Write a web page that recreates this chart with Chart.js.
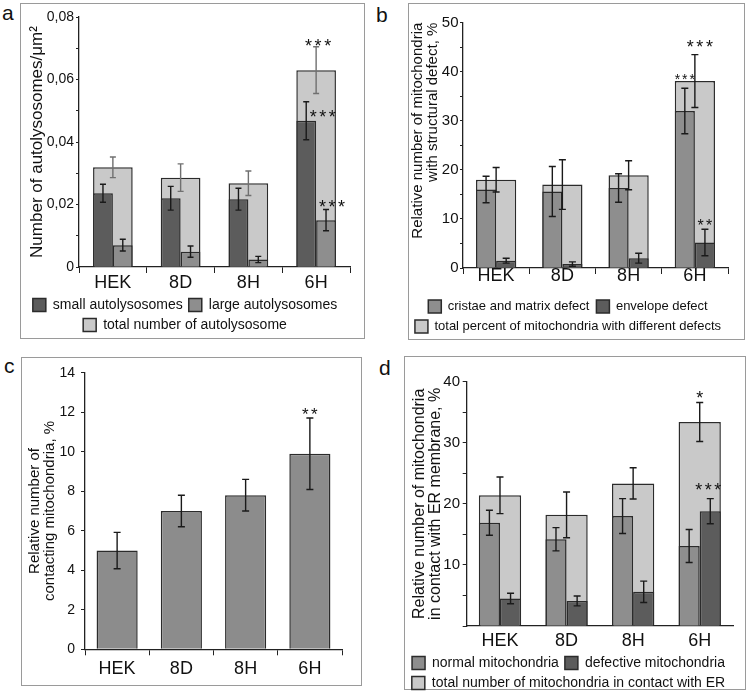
<!DOCTYPE html>
<html>
<head>
<meta charset="utf-8">
<script src="https://cdn.jsdelivr.net/npm/chart.js@4.4.1/dist/chart.umd.min.js"></script>
<style>
  body { margin: 0; background: #fff; width: 750px; height: 696px; position: relative; overflow: hidden;
         font-family: 'Liberation Sans', Arial, sans-serif; }
  .box { position: absolute; border: 1px solid #9a9a9a; box-sizing: border-box; }
  .letter { position: absolute; font-size: 21px; color: #111; line-height: 1; }
  canvas { position: absolute; }
</style>
</head>
<body>
<div class="box" style="left:20px;top:3px;width:345px;height:336px"></div>
<div class="box" style="left:408px;top:3px;width:337px;height:337px"></div>
<div class="box" style="left:21px;top:357px;width:341px;height:329px"></div>
<div class="box" style="left:404px;top:356px;width:342px;height:334px"></div>
<div class="letter" style="left:2px;top:2px">a</div>
<div class="letter" style="left:376px;top:4px">b</div>
<div class="letter" style="left:4px;top:355px">c</div>
<div class="letter" style="left:379px;top:357px">d</div>

<canvas id="chartA" width="345" height="339" style="left:20px;top:3px"></canvas>
<canvas id="chartB" width="337" height="340" style="left:408px;top:3px"></canvas>
<canvas id="chartC" width="341" height="329" style="left:21px;top:357px"></canvas>
<canvas id="chartD" width="342" height="344" style="left:404px;top:356px"></canvas>

<script>
// Data
const groups = ['HEK', '8D', '8H', '6H'];

// a: autolysosomes per µm²
const smallAuto = [0.0236, 0.0220, 0.0217, 0.0468];
const smallAutoErr = [0.0029, 0.0038, 0.0035, 0.0061];
const largeAuto = [0.0070, 0.0049, 0.0024, 0.0150];
const largeAutoErr = [0.0019, 0.0018, 0.0010, 0.0034];
const totalAuto = [0.0319, 0.0286, 0.0268, 0.0630];
const totalAutoErr = [0.0033, 0.0044, 0.0039, 0.0075];
const sigSmallAuto = ['', '', '', '***'];
const sigLargeAuto = ['', '', '', '***'];
const sigTotalAuto = ['', '', '', '***'];

// b: mitochondria with structural defect, %
const cristaeDefect = [16.0, 15.6, 16.3, 32.0];
const cristaeDefectErr = [2.7, 5.1, 2.9, 4.65];
const envelopeDefect = [1.5, 0.8, 2.0, 5.2];
const envelopeDefectErr = [0.5, 0.45, 1.0, 2.7];
const totalDefect = [18.0, 17.0, 18.9, 38.1];
const totalDefectErr = [2.5, 5.05, 2.95, 5.4];
const sigCristae = ['', '', '', '***'];
const sigEnvelope = ['', '', '', '**'];
const sigTotalDefect = ['', '', '', '***'];

// c: contacting mitochondria, %
const contacting = [5.0, 7.0, 7.8, 9.9];
const contactingErr = [0.92, 0.8, 0.8, 1.81];
const sigContacting = ['', '', '', '**'];

// d: mitochondria in contact with ER membrane, %
const normalER = [16.9, 14.2, 18.0, 13.1];
const normalERErr = [2.05, 1.9, 2.85, 2.7];
const defectiveER = [4.5, 4.1, 5.6, 18.8];
const defectiveERErr = [0.85, 0.8, 1.75, 2.05];
const totalER = [21.4, 18.2, 23.35, 33.4];
const totalERErr = [3.0, 3.75, 2.55, 3.2];
const sigDefectiveER = ['', '', '', '***'];
const sigTotalER = ['', '', '', '*'];

// Shared look
const fontFamily = "'Liberation Sans', Arial, sans-serif";
Chart.defaults.font.family = fontFamily;
Chart.defaults.color = '#111';

const shades = {
  dark: '#5c5c5c',
  medium: '#8e8e8e',
  light: '#c9c9c9',
  border: '#2b2b2b'
};

// Draws mean ± error whiskers from dataset.errors
const errorBarPlugin = {
  id: 'errorBars',
  afterDatasetsDraw(chart, args, opts) {
    const ctx = chart.ctx;
    const yScale = chart.scales.y;
    const cap = opts.cap || 3.5;
    chart.data.datasets.forEach((ds, di) => {
      if (!ds.errors) return;
      const meta = chart.getDatasetMeta(di);
      meta.data.forEach((bar, i) => {
        const top = yScale.getPixelForValue(ds.data[i] + ds.errors[i]);
        const bot = yScale.getPixelForValue(ds.data[i] - ds.errors[i]);
        ctx.save();
        ctx.strokeStyle = ds.errorColor || '#1a1a1a';
        ctx.lineWidth = 1.4;
        ctx.beginPath();
        ctx.moveTo(bar.x, top); ctx.lineTo(bar.x, bot);
        ctx.moveTo(bar.x - cap, top); ctx.lineTo(bar.x + cap, top);
        ctx.moveTo(bar.x - cap, bot); ctx.lineTo(bar.x + cap, bot);
        ctx.stroke();
        ctx.restore();
      });
    });
  }
};

// Draws significance asterisks above the whiskers
const sigPlugin = {
  id: 'sigMarks',
  afterDatasetsDraw(chart, args, opts) {
    const ctx = chart.ctx;
    const yScale = chart.scales.y;
    chart.data.datasets.forEach((ds, di) => {
      if (!ds.sig) return;
      const place = (opts.place || {})[di] || { dx: 0, dy: -8, size: 18 };
      const meta = chart.getDatasetMeta(di);
      meta.data.forEach((bar, i) => {
        const txt = ds.sig[i];
        if (!txt) return;
        const top = yScale.getPixelForValue(ds.data[i] + (ds.errors ? ds.errors[i] : 0));
        const cx = bar.x + place.dx;
        const cy = top + place.dy;
        const gap = place.size * 0.53;
        ctx.save();
        ctx.fillStyle = '#111';
        ctx.font = place.size + 'px ' + fontFamily;
        ctx.textAlign = 'center';
        ctx.textBaseline = 'alphabetic';
        for (let k = 0; k < txt.length; k++) {
          ctx.fillText(txt[k], cx + (k - (txt.length - 1) / 2) * gap, cy + place.size * 0.58);
        }
        ctx.restore();
      });
    });
  }
};

function barSet(label, data, errors, color, extra) {
  return Object.assign({
    label: label,
    data: data,
    errors: errors,
    backgroundColor: color,
    borderColor: shades.border,
    borderWidth: 1.5,
    order: 0
  }, extra || {});
}

function yAxis(o) {
  return {
    min: 0,
    max: o.max,
    afterFit: s => { s.width = o.width; },
    border: { display: true, color: '#222', width: 1.3 },
    grid: { drawOnChartArea: false, drawTicks: true, tickLength: o.tickLength, color: '#222' },
    ticks: {
      stepSize: o.step,
      padding: o.padding,
      font: { size: o.fontSize },
      color: '#111',
      callback: o.label
    },
    title: {
      display: true,
      text: o.title,
      align: o.align || 'center',
      font: { size: o.titleSize, lineHeight: 1 },
      padding: { top: o.titlePad, bottom: 0 },
      color: '#111'
    }
  };
}

function xAxis(o) {
  return {
    afterFit: s => { s.height = o.height; },
    border: { display: true, color: '#222', width: 1.3 },
    grid: { drawOnChartArea: false, drawTicks: o.drawTicks, tickLength: 6, color: '#222', offset: true },
    ticks: { padding: o.padding, font: { size: 18, lineHeight: 1 }, color: '#111' }
  };
}

function legendOpts(size, padding) {
  return {
    display: true,
    position: 'bottom',
    labels: { font: { size: size }, boxWidth: 13, boxHeight: 13, padding: padding, color: '#111' }
  };
}

function baseOptions(padding) {
  return {
    responsive: false,
    animation: false,
    layout: { padding: padding },
    plugins: { tooltip: { enabled: false } }
  };
}

// a: autolysosomes
function createAutolysosomeChart(ctx) {
  const opts = baseOptions({ left: 0, right: 15, top: 14, bottom: 0 });
  opts.scales = {
    y: yAxis({
      max: 0.08, step: 0.01, width: 59, tickLength: 3, padding: 2, fontSize: 14,
      title: 'Number of autolysosomes/\u03bcm\u00b2', titleSize: 17, titlePad: 8.5,
      label: v => {
        const n = Math.round(v * 100);
        if (n % 2 !== 0) return '';
        return n === 0 ? '0' : (n / 100).toFixed(2).replace('.', ',');
      }
    }),
    x: xAxis({ height: 25, padding: 1, drawTicks: true })
  };
  opts.plugins.legend = legendOpts(14, 6);
  opts.plugins.errorBars = { cap: 3 };
  opts.plugins.sigMarks = {
    place: {
      0: { dx: 16.5, dy: 11, size: 18 },
      1: { dx: 6, dy: -7, size: 18 },
      2: { dx: 2, dy: -5, size: 18 }
    }
  };
  return new Chart(ctx, {
    type: 'bar',
    data: {
      labels: groups,
      datasets: [
        barSet('small autolysosomes', smallAuto, smallAutoErr, shades.dark,
          { sig: sigSmallAuto, categoryPercentage: 0.585, barPercentage: 1 }),
        barSet('large autolysosomes', largeAuto, largeAutoErr, shades.medium,
          { sig: sigLargeAuto, categoryPercentage: 0.585, barPercentage: 1 }),
        barSet('total number of autolysosome', totalAuto, totalAutoErr, shades.light,
          { sig: sigTotalAuto, grouped: false, categoryPercentage: 0.585, barPercentage: 1,
            order: 1, errorColor: '#707070' })
      ]
    },
    options: opts,
    plugins: [errorBarPlugin, sigPlugin]
  });
}

// b: structural defects
function createDefectChart(ctx) {
  const opts = baseOptions({ left: 0, right: 17, top: 19.7, bottom: 0 });
  opts.scales = {
    y: yAxis({
      max: 50, step: 5, width: 55, tickLength: 3, padding: 1.5, fontSize: 15,
      title: ['Relative number of mitochondria', 'with structural defect, %'],
      titleSize: 15, titlePad: 2.5, align: 'end',
      label: v => (Math.round(v) % 10 === 0 ? String(Math.round(v)) : '')
    }),
    x: xAxis({ height: 25, padding: -6.5, drawTicks: true })
  };
  opts.plugins.legend = legendOpts(13, 7);
  opts.plugins.errorBars = { cap: 3.5 };
  opts.plugins.sigMarks = {
    place: {
      0: { dx: 0, dy: -12, size: 14 },
      1: { dx: 0, dy: -7.6, size: 16 },
      2: { dx: 5, dy: -12, size: 18 }
    }
  };
  return new Chart(ctx, {
    type: 'bar',
    data: {
      labels: groups,
      datasets: [
        barSet('cristae and matrix defect', cristaeDefect, cristaeDefectErr, shades.medium,
          { sig: sigCristae, categoryPercentage: 0.607, barPercentage: 1 }),
        barSet('envelope defect', envelopeDefect, envelopeDefectErr, shades.dark,
          { sig: sigEnvelope, categoryPercentage: 0.607, barPercentage: 1 }),
        barSet('total percent of mitochondria with different defects', totalDefect, totalDefectErr, shades.light,
          { sig: sigTotalDefect, grouped: false, categoryPercentage: 0.607, barPercentage: 1, order: 1 })
      ]
    },
    options: opts,
    plugins: [errorBarPlugin, sigPlugin]
  });
}

// c: contacting mitochondria
function createContactChart(ctx) {
  const opts = baseOptions({ left: 0, right: 20, top: 15.7, bottom: 0 });
  opts.scales = {
    y: yAxis({
      max: 14, step: 2, width: 64, tickLength: 4, padding: 6, fontSize: 14,
      title: ['Relative number of', 'contacting mitochondria, %'], titleSize: 15, titlePad: 6.5,
      label: v => String(Math.round(v))
    }),
    x: xAxis({ height: 36.7, padding: 5, drawTicks: true })
  };
  opts.plugins.legend = { display: false };
  opts.plugins.errorBars = { cap: 3.5 };
  opts.plugins.sigMarks = { place: { 0: { dx: 0, dy: -7.7, size: 17 } } };
  return new Chart(ctx, {
    type: 'bar',
    data: {
      labels: groups,
      datasets: [
        barSet('contacting mitochondria', contacting, contactingErr, '#8c8c8c',
          { sig: sigContacting, categoryPercentage: 0.64, barPercentage: 1 })
      ]
    },
    options: opts,
    plugins: [errorBarPlugin, sigPlugin]
  });
}

// d: contact with ER membrane
function createERChart(ctx) {
  const opts = baseOptions({ left: 0, right: 13, top: 25.7, bottom: 0 });
  opts.scales = {
    y: yAxis({
      max: 40, step: 5, width: 62.7, tickLength: 4, padding: 2.7, fontSize: 15,
      title: ['Relative number of mitochondria', 'in contact with ER membrane, %'], titleSize: 16, titlePad: 8,
      label: v => {
        const n = Math.round(v);
        return (n % 10 === 0 && n !== 0) ? String(n) : '';
      }
    }),
    x: xAxis({ height: 24, padding: 5.7, drawTicks: false })
  };
  opts.plugins.legend = legendOpts(14, 6);
  opts.plugins.errorBars = { cap: 3.5 };
  opts.plugins.sigMarks = {
    place: {
      1: { dx: -2, dy: -13, size: 18 },
      2: { dx: 0, dy: -9.3, size: 18 }
    }
  };
  return new Chart(ctx, {
    type: 'bar',
    data: {
      labels: groups,
      datasets: [
        barSet('normal mitochondria', normalER, normalERErr, shades.medium,
          { categoryPercentage: 0.635, barPercentage: 1 }),
        barSet('defective mitochondria', defectiveER, defectiveERErr, shades.dark,
          { sig: sigDefectiveER, categoryPercentage: 0.635, barPercentage: 1 }),
        barSet('total number of mitochondria in contact with ER', totalER, totalERErr, shades.light,
          { sig: sigTotalER, grouped: false, categoryPercentage: 0.635, barPercentage: 1, order: 1 })
      ]
    },
    options: opts,
    plugins: [errorBarPlugin, sigPlugin]
  });
}

createAutolysosomeChart(document.getElementById('chartA'));
createDefectChart(document.getElementById('chartB'));
createContactChart(document.getElementById('chartC'));
createERChart(document.getElementById('chartD'));
</script>
</body>
</html>
